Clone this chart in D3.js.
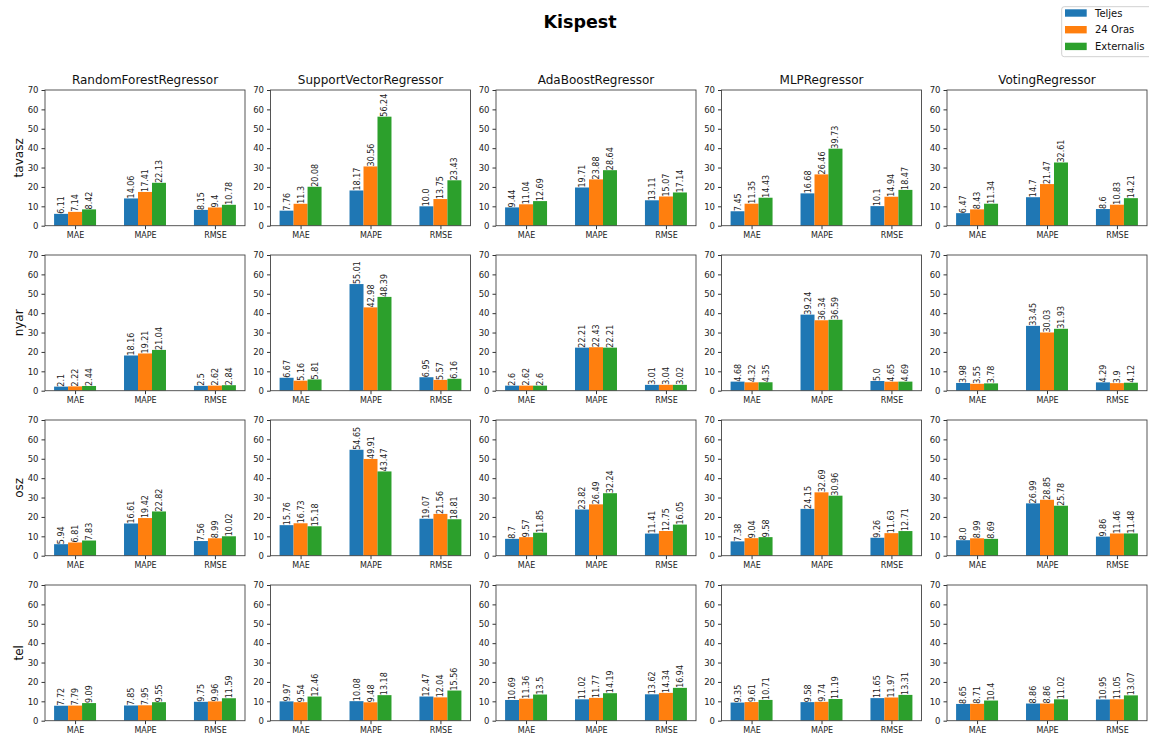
<!DOCTYPE html>
<html>
<head>
<meta charset="utf-8">
<script src="https://cdn.jsdelivr.net/npm/d3@7"></script>
<style>
  body { margin: 0; background: #fff; }
  svg { font-family: "DejaVu Sans", sans-serif; }
  .tick text { fill: #222; }
  .tick line { stroke: #333; }
</style>
</head>
<body>
<div id="chart"></div>
<script>
const seasons = ["tavasz", "nyar", "osz", "tel"];
const models = ["RandomForestRegressor", "SupportVectorRegressor", "AdaBoostRegressor", "MLPRegressor", "VotingRegressor"];
const metrics = ["MAE", "MAPE", "RMSE"];
const seriesNames = ["Teljes", "24 Oras", "Externalis"];
const seriesColors = ["#1f77b4", "#ff7f0e", "#2ca02c"];
const yTicks = [0, 10, 20, 30, 40, 50, 60, 70];

// [model][metric][series]
const tavasz = [
  [[6.11, 7.14, 8.42], [14.06, 17.41, 22.13], [8.15, 9.4, 10.78]],
  [[7.76, 11.3, 20.08], [18.17, 30.56, 56.24], [10.0, 13.75, 23.43]],
  [[9.44, 11.04, 12.69], [19.71, 23.88, 28.64], [13.11, 15.07, 17.14]],
  [[7.45, 11.35, 14.43], [16.68, 26.46, 39.73], [10.1, 14.94, 18.47]],
  [[6.47, 8.43, 11.34], [14.7, 21.47, 32.61], [8.6, 10.83, 14.21]]
];
const nyar = [
  [[2.1, 2.22, 2.44], [18.16, 19.21, 21.04], [2.5, 2.62, 2.84]],
  [[6.67, 5.16, 5.81], [55.01, 42.98, 48.39], [6.95, 5.57, 6.16]],
  [[2.6, 2.62, 2.6], [22.21, 22.43, 22.21], [3.01, 3.04, 3.02]],
  [[4.68, 4.32, 4.35], [39.24, 36.34, 36.59], [5.0, 4.65, 4.69]],
  [[3.98, 3.55, 3.78], [33.45, 30.03, 31.93], [4.29, 3.9, 4.12]]
];
const osz = [
  [[5.94, 6.81, 7.83], [16.61, 19.42, 22.82], [7.56, 8.99, 10.02]],
  [[15.76, 16.73, 15.18], [54.65, 49.91, 43.47], [19.07, 21.56, 18.81]],
  [[8.7, 9.57, 11.85], [23.82, 26.49, 32.24], [11.41, 12.75, 16.05]],
  [[7.38, 9.04, 9.58], [24.15, 32.69, 30.96], [9.26, 11.63, 12.71]],
  [[8.0, 8.99, 8.69], [26.99, 28.85, 25.78], [9.86, 11.46, 11.48]]
];
const tel = [
  [[7.72, 7.79, 9.09], [7.85, 7.95, 9.55], [9.75, 9.96, 11.59]],
  [[9.97, 9.54, 12.46], [10.08, 9.48, 13.18], [12.47, 12.04, 15.56]],
  [[10.69, 11.36, 13.5], [11.02, 11.77, 14.19], [13.62, 14.34, 16.94]],
  [[9.35, 9.61, 10.71], [9.58, 9.74, 11.19], [11.65, 11.97, 13.31]],
  [[8.65, 8.71, 10.4], [8.86, 8.86, 11.02], [10.95, 11.05, 13.07]]
];
const seasonValues = [tavasz, nyar, osz, tel];

const W = 1149, H = 733;
const dims = { left: 45, top: 90, width: 200, height: 135.7, colStep: 225.5, rowStep: 165 };
const barW = 0.2;

// python-style float printing
const fmt = v => Number.isInteger(v) ? v.toFixed(1) : String(v);

const svg = d3.select("#chart").append("svg")
  .attr("width", W).attr("height", H);

svg.append("text")
  .attr("x", 580).attr("y", 28)
  .attr("text-anchor", "middle")
  .attr("font-size", 17.5).attr("font-weight", "bold")
  .text("Kispest");

const x = d3.scaleLinear([-0.43, 2.43], [0, dims.width]);
const y = d3.scaleLinear([0, 70], [dims.height, 0]);

seasons.forEach((season, r) => {
  models.forEach((model, c) => {
    const g = svg.append("g")
      .attr("transform", `translate(${dims.left + c * dims.colStep} ${dims.top + r * dims.rowStep})`);

    const vals = seasonValues[r][c];
    const bars = [];
    vals.forEach((arr, m) => arr.forEach((v, s) => bars.push({ m, s, v })));

    g.selectAll("rect.bar")
      .data(bars)
      .join("rect")
        .attr("class", "bar")
        .attr("x", d => x(d.m + (d.s - 1) * barW - barW / 2))
        .attr("width", x(barW) - x(0))
        .attr("y", d => y(d.v))
        .attr("height", d => y(0) - y(d.v))
        .attr("fill", d => seriesColors[d.s]);

    g.selectAll("text.val")
      .data(bars)
      .join("text")
        .attr("class", "val")
        .attr("transform", d => `translate(${x(d.m + (d.s - 1) * barW) + 3} ${y(d.v)}) rotate(-90)`)
        .attr("font-size", 8)
        .attr("fill", "#222")
        .text(d => fmt(d.v));

    const yAxis = g.append("g")
      .call(d3.axisLeft(y).tickValues(yTicks).tickSize(3.5).tickPadding(3));
    yAxis.select(".domain").remove();
    yAxis.selectAll("text").attr("font-size", 8.5).attr("font-family", "DejaVu Sans");

    const xAxis = g.append("g")
      .attr("transform", `translate(0 ${dims.height})`)
      .call(d3.axisBottom(x).tickValues([0, 1, 2]).tickFormat(i => metrics[i]).tickSize(3.5).tickPadding(3));
    xAxis.select(".domain").remove();
    xAxis.selectAll("text").attr("font-size", 8).attr("font-family", "DejaVu Sans");

    g.append("rect")
      .attr("width", dims.width).attr("height", dims.height)
      .attr("fill", "none").attr("stroke", "#444").attr("stroke-width", 0.9);

    if (r === 0) {
      g.append("text")
        .attr("x", dims.width / 2).attr("y", -6)
        .attr("text-anchor", "middle")
        .attr("font-size", 12)
        .attr("fill", "#111")
        .text(model);
    }
    if (c === 0) {
      g.append("text")
        .attr("transform", `translate(${-dims.left + 22.5} ${dims.height / 2}) rotate(-90)`)
        .attr("text-anchor", "middle")
        .attr("font-size", 12)
        .attr("fill", "#111")
        .text(season);
    }
  });
});

// legend
const legend = svg.append("g").attr("transform", "translate(1061.7 6.7)");
legend.append("rect")
  .attr("width", 100).attr("height", 50).attr("rx", 2.5)
  .attr("fill", "#fff").attr("fill-opacity", 0.8)
  .attr("stroke", "#ccc").attr("stroke-width", 0.9);
seriesNames.forEach((name, i) => {
  legend.append("rect")
    .attr("x", 3.3).attr("y", 2.6 + i * 16.7)
    .attr("width", 21.7).attr("height", 7.4)
    .attr("fill", seriesColors[i]);
  legend.append("text")
    .attr("x", 33.3).attr("y", 10 + i * 16.7)
    .attr("font-size", 10)
    .attr("fill", "#111")
    .text(name);
});
</script>
</body>
</html>
